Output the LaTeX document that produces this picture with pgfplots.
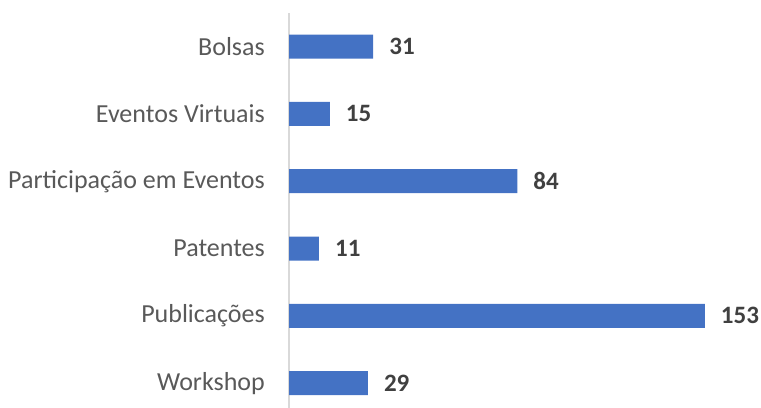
\documentclass[border=0pt]{standalone}
\usepackage{fontspec}
\setmainfont{Carlito}
\usepackage{pgfplots}
\pgfplotsset{compat=1.18}

\definecolor{barblue}{HTML}{4472C4}
\definecolor{labgray}{HTML}{595959}
\definecolor{numgray}{HTML}{404040}
\definecolor{axgray}{HTML}{D9D9D9}

\begin{document}
\begin{tikzpicture}
\useasboundingbox (0,0) rectangle (761bp,408bp);
\begin{axis}[
    at={(289bp,0bp)}, anchor=south west,
    scale only axis,
    width=472bp, height=395bp,
    xbar,
    bar width=24bp,
    xmin=0, xmax=173.7,
    ymin=-0.37, ymax=5.5,
    axis x line=none,
    axis y line*=left,
    y axis line style={axgray, line width=1.5bp},
    ytick={0,1,2,3,4,5},
    yticklabels={Workshop, Publicações, Patentes, Participação em Eventos, Eventos Virtuais, Bolsas},
    major tick length=0pt,
    y tick label style={font=\fontsize{26bp}{30bp}\selectfont, text=labgray, inner xsep=0pt, xshift=-24bp},
    /pgf/number format/assume math mode=true,
    nodes near coords,
    nodes near coords style={font=\fontsize{25bp}{30bp}\selectfont\bfseries, text=numgray, anchor=west, inner xsep=0pt, xshift=16bp},
    clip=false,
]
\addplot[fill=barblue, draw=none] coordinates {
    (29,0) (153,1) (11,2) (84,3) (15,4) (31,5)
};
\end{axis}
\end{tikzpicture}
\end{document}
